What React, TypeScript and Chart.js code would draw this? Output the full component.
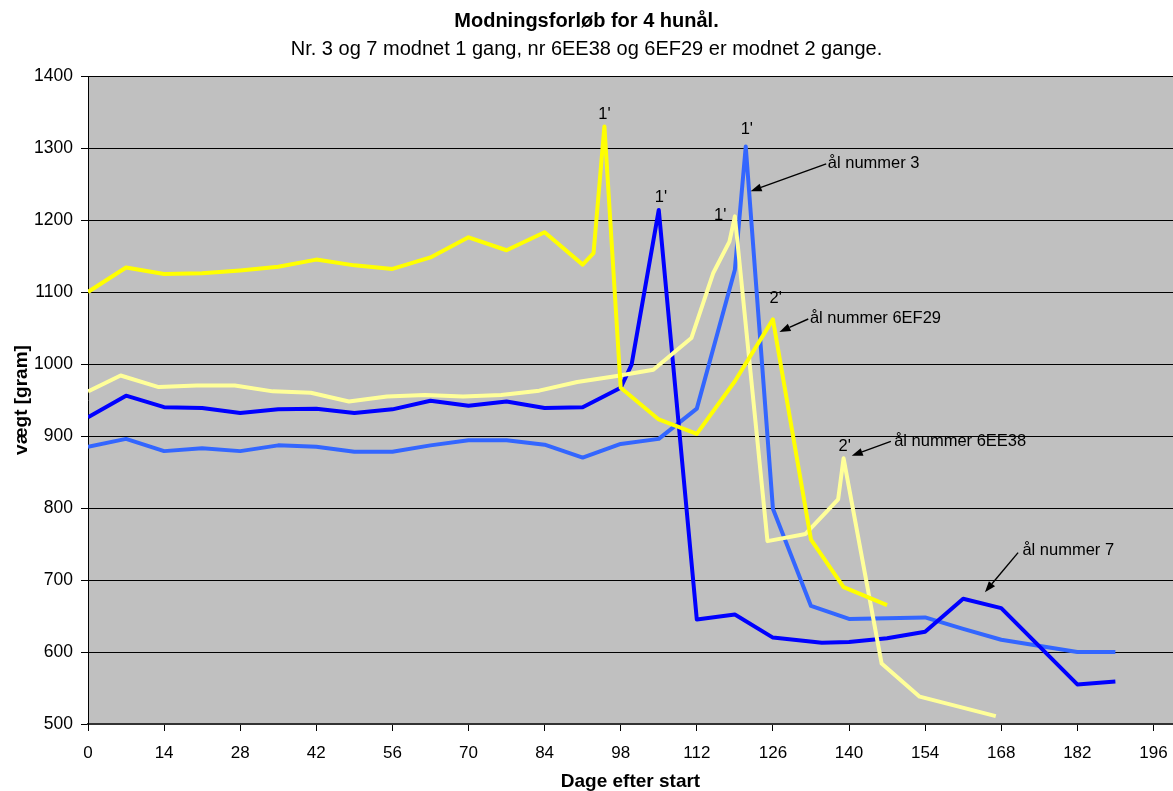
import React, { useEffect, useRef } from "react";
import { Chart, registerables } from "chart.js";

Chart.register(...registerables);

const FONT = "'Liberation Sans', Arial, Helvetica, sans-serif";

// ---------- data ----------
const titleText = "Modningsforløb for 4 hunål.";
const subtitleText = "Nr. 3 og 7 modnet 1 gang, nr 6EE38 og 6EF29 er modnet 2 gange.";
const xAxisTitle = "Dage efter start";
const yAxisTitle = "vægt [gram]";

const seriesNames = ["ål nummer 3", "ål nummer 7", "ål nummer 6EE38", "ål nummer 6EF29"];
const seriesColors = ["#3366FF", "#0000FF", "#FFFF99", "#FFFF00"];

const daysEel3 = [0, 7, 14, 21, 28, 35, 42, 49, 56, 63, 70, 77, 84, 91, 98, 105, 112, 119, 121, 126, 133, 140, 147, 154, 161, 168, 182, 189];
const gramEel3 = [885, 896, 879, 883, 879, 887, 885, 878, 878, 887, 894, 894, 888, 870, 889, 896, 938, 1131, 1302, 799, 664, 646, 647, 648, 632, 617, 600, 600];

const daysEel7 = [0, 7, 14, 21, 28, 35, 42, 49, 56, 63, 70, 77, 84, 91, 98, 100, 105, 112, 119, 126, 135, 140, 147, 154, 161, 168, 182, 189];
const gramEel7 = [926, 956, 940, 939, 932, 937, 938, 932, 937, 949, 942, 948, 939, 940, 967, 999, 1214, 645, 652, 620, 613, 614, 619, 628, 674, 661, 555, 559];

const days6EE38 = [0, 6, 13, 20, 27, 34, 41, 48, 55, 62, 69, 76, 83, 90, 97, 104, 111, 115, 118, 119, 125, 132, 138, 139, 146, 153, 167];
const gram6EE38 = [962, 984, 968, 970, 970, 962, 960, 948, 955, 957, 955, 957, 963, 975, 983, 992, 1036, 1126, 1170, 1205, 754, 764, 812, 869, 584, 538, 511];

const days6EF29 = [0, 7, 14, 21, 28, 35, 42, 49, 56, 63, 70, 77, 84, 91, 93, 95, 98, 105, 112, 119, 126, 133, 139, 147];
const gram6EF29 = [1100, 1134, 1125, 1126, 1130, 1135, 1145, 1137, 1132, 1148, 1176, 1158, 1183, 1138, 1154, 1330, 967, 923, 903, 976, 1062, 756, 690, 665];

const xMin = 0;
const xMax = 199.6;
const xStep = 14;
const yMin = 500;
const yMax = 1400;
const yStep = 100;

// peak markers (data coordinates)
const peakText = ["1'", "1'", "1'", "1'", "2'", "2'"];
const peakDay = [95.0, 105.4, 121.2, 116.3, 126.5, 139.2];
const peakGram = [1346, 1232, 1326, 1207, 1091, 885];

// callouts with arrows (data coordinates)
const calloutText = ["ål nummer 3", "ål nummer 6EF29", "ål nummer 6EE38", "ål nummer 7"];
const calloutDay = [136.1, 132.8, 148.3, 171.9];
const calloutGram = [1278, 1063, 892.5, 741];
const arrowFromDay = [135.8, 132.5, 147.7, 171.1];
const arrowFromGram = [1278, 1062.5, 892.5, 738];
const arrowToDay = [121.9, 127.2, 140.5, 165.0];
const arrowToGram = [1240, 1044.5, 872.6, 683];

const dayArrays = [daysEel3, daysEel7, days6EE38, days6EF29];
const gramArrays = [gramEel3, gramEel7, gram6EE38, gram6EF29];

const plotBgPlugin = {
  id: "plotBg",
  beforeDraw(chart: any) {
    const { ctx, chartArea: a } = chart;
    ctx.save();
    ctx.fillStyle = "#FFFFFF";
    ctx.fillRect(0, 0, chart.width, chart.height);
    ctx.fillStyle = "#C0C0C0";
    ctx.fillRect(a.left, a.top, a.right - a.left, a.bottom - a.top);
    ctx.restore();
  },
};

const notesPlugin = {
  id: "notes",
  afterDatasetsDraw(chart: any) {
    const { ctx } = chart;
    const xs = chart.scales.x;
    const ys = chart.scales.y;
    ctx.save();
    ctx.fillStyle = "#000";
    ctx.strokeStyle = "#000";
    ctx.font = `16.5px ${FONT}`;
    ctx.textBaseline = "middle";
    ctx.textAlign = "center";
    for (let i = 0; i < peakText.length; i++) {
      ctx.fillText(peakText[i], xs.getPixelForValue(peakDay[i]), ys.getPixelForValue(peakGram[i]));
    }
    ctx.textAlign = "left";
    for (let i = 0; i < calloutText.length; i++) {
      ctx.fillText(calloutText[i], xs.getPixelForValue(calloutDay[i]), ys.getPixelForValue(calloutGram[i]));
      const x1 = xs.getPixelForValue(arrowFromDay[i]);
      const y1 = ys.getPixelForValue(arrowFromGram[i]);
      const x2 = xs.getPixelForValue(arrowToDay[i]);
      const y2 = ys.getPixelForValue(arrowToGram[i]);
      const ang = Math.atan2(y2 - y1, x2 - x1);
      const len = 11;
      const hw = 4;
      const bx = x2 - len * Math.cos(ang);
      const by = y2 - len * Math.sin(ang);
      ctx.lineWidth = 1.4;
      ctx.beginPath();
      ctx.moveTo(x1, y1);
      ctx.lineTo(bx, by);
      ctx.stroke();
      ctx.beginPath();
      ctx.moveTo(x2, y2);
      ctx.lineTo(bx + hw * Math.sin(ang), by - hw * Math.cos(ang));
      ctx.lineTo(bx - hw * Math.sin(ang), by + hw * Math.cos(ang));
      ctx.closePath();
      ctx.fill();
    }
    ctx.restore();
  },
};

export default function App() {
  const canvasRef = useRef<HTMLCanvasElement | null>(null);

  useEffect(() => {
    const canvas = canvasRef.current;
    if (!canvas) return;
    const datasets = seriesNames
      .map((name, i) => ({
        label: name,
        data: dayArrays[i].map((d, j) => ({ x: d, y: gramArrays[i][j] })),
        borderColor: seriesColors[i],
        backgroundColor: seriesColors[i],
        borderWidth: 4,
        pointRadius: 0,
        pointHoverRadius: 0,
        tension: 0,
        fill: false,
        borderJoinStyle: "round" as const,
        borderCapStyle: "butt" as const,
      }))
      .reverse();

    const chart = new Chart(canvas, {
      type: "line",
      data: { datasets },
      plugins: [plotBgPlugin, notesPlugin],
      options: {
        animation: false,
        responsive: false,
        maintainAspectRatio: false,
        devicePixelRatio: 1,
        layout: { padding: { left: 0, right: 0, top: 0, bottom: 0 } },
        plugins: {
          legend: { display: false },
          tooltip: { enabled: false },
          title: {
            display: true,
            text: titleText,
            color: "#000",
            font: { family: FONT, size: 20, weight: "bold" },
            padding: { top: 9, bottom: 0 },
          },
          subtitle: {
            display: true,
            text: subtitleText,
            color: "#000",
            font: { family: FONT, size: 20, weight: "normal" },
            padding: { top: 4, bottom: 15 },
          },
        },
        scales: {
          x: {
            type: "linear",
            min: xMin,
            max: xMax,
            ticks: {
              stepSize: xStep,
              includeBounds: false,
              maxRotation: 0,
              autoSkip: false,
              color: "#000",
              padding: 12,
              font: { family: FONT, size: 17 },
              callback: (v: any) => String(v),
            },
            afterBuildTicks: (s: any) => {
              s.ticks = s.ticks.filter((t: any) => t.value % xStep === 0 && t.value <= xMax);
            },
            afterFit: (s: any) => {
              s.height = 67;
              s.paddingRight = 0;
              s.paddingLeft = 0;
            },
            grid: {
              display: true,
              drawOnChartArea: false,
              drawTicks: true,
              tickLength: 7,
              color: "#000",
              lineWidth: 1,
            },
            border: { display: true, color: "#333", width: 2 },
            title: {
              display: true,
              text: xAxisTitle,
              color: "#000",
              font: { family: FONT, size: 19, weight: "bold", lineHeight: 1.0 },
              padding: { top: 0, bottom: 0 },
            },
          },
          y: {
            type: "linear",
            min: yMin,
            max: yMax,
            ticks: {
              stepSize: yStep,
              color: "#000",
              padding: 8,
              font: { family: FONT, size: 17.5 },
              callback: (v: any) => String(v),
            },
            afterFit: (s: any) => {
              s.width = 88;
            },
            grid: {
              display: true,
              drawOnChartArea: true,
              drawTicks: true,
              tickLength: 7,
              color: "#000",
              lineWidth: 1,
            },
            border: { display: true, color: "#000", width: 1 },
            title: {
              display: true,
              text: yAxisTitle,
              color: "#000",
              font: { family: FONT, size: 19, weight: "bold" },
              padding: { top: 10, bottom: 0 },
            },
          },
        },
      } as any,
    });
    return () => chart.destroy();
  }, []);

  return (
    <div style={{ position: "fixed", left: 0, top: 0, width: 1173, height: 791, background: "#fff" }}>
      <canvas ref={canvasRef} width={1173} height={791} style={{ display: "block", width: 1173, height: 791 }} />
    </div>
  );
}
